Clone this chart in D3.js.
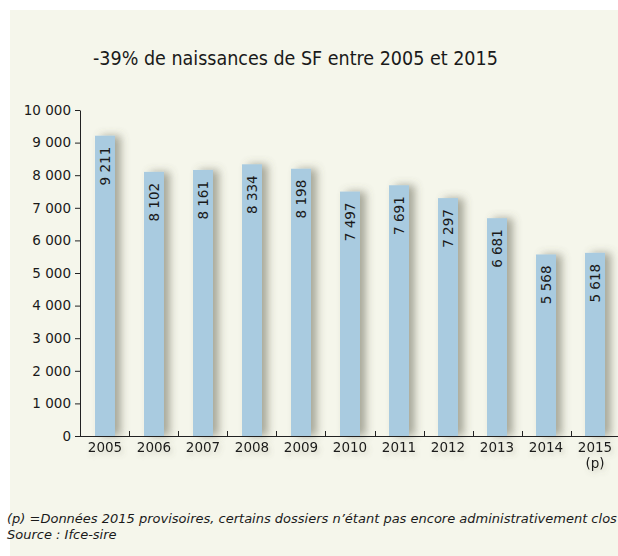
<!DOCTYPE html>
<html>
<head>
<meta charset="utf-8">
<script src="https://cdn.jsdelivr.net/npm/d3@7"></script>
<style>
  html, body { margin: 0; padding: 0; background: #ffffff; }
  svg { display: block; }
</style>
</head>
<body>
<script>
const years = ["2005","2006","2007","2008","2009","2010","2011","2012","2013","2014","2015"];
const yearSub = ["","","","","","","","","","","(p)"];
const births = [9211, 8102, 8161, 8334, 8198, 7497, 7691, 7297, 6681, 5568, 5618];
const yTicks = [0,1000,2000,3000,4000,5000,6000,7000,8000,9000,10000];
const titleText = "-39% de naissances de SF entre 2005 et 2015";
const notes = [
  "(p) =Données 2015 provisoires, certains dossiers n’étant pas encore administrativement clos",
  "Source : Ifce-sire"
];

const W = 618, H = 556;
const font = "'DejaVu Sans', Verdana, sans-serif";
const condFont = "'DejaVu Sans Condensed', 'DejaVu Sans', sans-serif";
const svg = d3.select("body").append("svg").attr("width", W).attr("height", H);

const defs = svg.append("defs");
const f = defs.append("filter").attr("id","shadow")
  .attr("x","-50%").attr("y","-10%").attr("width","250%").attr("height","120%");
f.append("feGaussianBlur").attr("in","SourceAlpha").attr("stdDeviation",4).attr("result","b");
f.append("feOffset").attr("in","b").attr("dx",6).attr("dy",0).attr("result","o");
f.append("feFlood").attr("flood-color","#5a5a48").attr("flood-opacity",0.5).attr("result","c");
f.append("feComposite").attr("in","c").attr("in2","o").attr("operator","in").attr("result","s");
const m = f.append("feMerge");
m.append("feMergeNode").attr("in","s");
m.append("feMergeNode").attr("in","SourceGraphic");

const f2 = defs.append("filter").attr("id","tshadow")
  .attr("x","-20%").attr("y","-50%").attr("width","140%").attr("height","220%");
f2.append("feGaussianBlur").attr("in","SourceAlpha").attr("stdDeviation",2.5).attr("result","b");
f2.append("feOffset").attr("in","b").attr("dx",2).attr("dy",3).attr("result","o");
f2.append("feFlood").attr("flood-color","#6a6a58").attr("flood-opacity",0.3).attr("result","c");
f2.append("feComposite").attr("in","c").attr("in2","o").attr("operator","in").attr("result","s");
const m2 = f2.append("feMerge");
m2.append("feMergeNode").attr("in","s");
m2.append("feMergeNode").attr("in","SourceGraphic");

// panel
svg.append("rect").attr("x",10).attr("y",10).attr("width",W-10).attr("height",H-10).attr("fill","#f5f6eb");

// title
svg.append("text").attr("x",93).attr("y",65)
  .attr("font-family",condFont).attr("font-size",19.5).attr("fill","#1a1a1a")
  .text(titleText);

const x0 = 80, x1 = 620, yBase = 436, yTop = 110;
const x = d3.scaleBand().domain(years).range([x0, x1]).paddingInner(0.592).paddingOuter(0.306);
const y = d3.scaleLinear().domain([0, 10000]).range([yBase, yTop]);
const fmt = d3.formatLocale({decimal: ",", thousands: " ", grouping: [3], currency: ["", " €"]}).format(",d");

// bars
svg.append("g").attr("filter","url(#shadow)")
  .selectAll("rect").data(births).join("rect")
  .attr("x",(d,i)=>x(years[i])).attr("width",x.bandwidth())
  .attr("y",d=>y(d)).attr("height",d=>y(0)-y(d))
  .attr("fill","#a9cbe0");

// value labels
svg.append("g").selectAll("text").data(births).join("text")
  .attr("transform",(d,i)=>`translate(${x(years[i]) + x.bandwidth()/2 + 5},${y(d)+11}) rotate(-90)`)
  .attr("text-anchor","end")
  .attr("font-family",font).attr("font-size",13.5).attr("fill","#1a1a1a")
  .text(d=>fmt(d));

// y axis
const yAxis = svg.append("g").attr("transform",`translate(${x0},0)`)
  .call(d3.axisLeft(y).tickValues(yTicks).tickSize(5).tickSizeOuter(0).tickPadding(4).tickFormat(fmt));
yAxis.selectAll("path, line").attr("stroke","#222");
yAxis.selectAll("text").attr("font-family",font).attr("font-size",13.5).attr("fill","#1a1a1a");

// x axis line and ticks between bars
svg.append("line").attr("x1",x0).attr("x2",W).attr("y1",yBase+0.5).attr("y2",yBase+0.5)
  .attr("stroke","#222");
const step = x.step();
svg.append("g").selectAll("line").data(years.slice(1)).join("line")
  .attr("x1",d=>Math.round(x(d) - step*x.paddingInner()/2)+0.5)
  .attr("x2",d=>Math.round(x(d) - step*x.paddingInner()/2)+0.5)
  .attr("y1",yBase).attr("y2",yBase-5).attr("stroke","#222");

// x labels
const xl = svg.append("g").attr("filter","url(#tshadow)");
xl.selectAll("text.yr").data(years).join("text").attr("class","yr")
  .attr("x",d=>x(d)+x.bandwidth()/2).attr("y",452)
  .attr("text-anchor","middle").attr("font-family",font).attr("font-size",13.5).attr("fill","#1a1a1a")
  .text(d=>d);
xl.selectAll("text.sub").data(yearSub.map((s,i)=>({s,i})).filter(o=>o.s)).join("text").attr("class","sub")
  .attr("x",o=>x(years[o.i])+x.bandwidth()/2).attr("y",468)
  .attr("text-anchor","middle").attr("font-family",font).attr("font-size",13.5).attr("fill","#1a1a1a")
  .text(o=>o.s);

// notes
svg.append("g").selectAll("text").data(notes).join("text")
  .attr("x",7).attr("y",(d,i)=>523+i*16)
  .attr("font-family",font).attr("font-style","italic").attr("font-size",13).attr("fill","#1a1a1a")
  .text(d=>d);
</script>
</body>
</html>
